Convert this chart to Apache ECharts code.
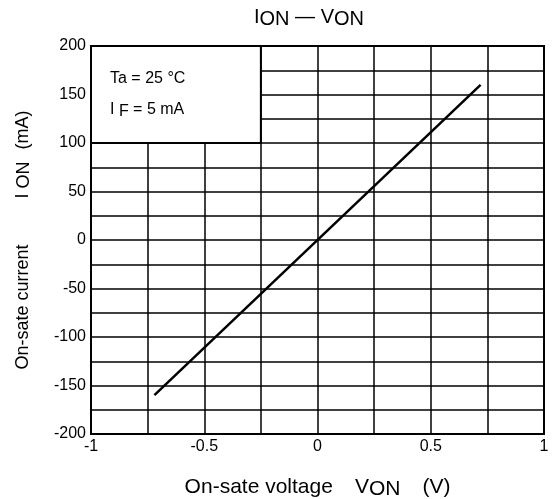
<!DOCTYPE html>
<html><head><meta charset="utf-8">
<script src="https://cdn.jsdelivr.net/npm/echarts@6/dist/echarts.min.js"></script>
<style>html,body{margin:0;padding:0;background:#fff}#c{width:553px;height:499px}</style>
</head><body><div id="c"></div>
<script>
var vOn = [-0.72, 0.72];
var iOn = [-160, 160];
var xTicks = [-1, -0.5, 0, 0.5, 1];
var yTicks = [-200, -150, -100, -50, 0, 50, 100, 150, 200];
var insetBox = [[-1, 100], [-0.25, 200]];

var F = 'Liberation Sans, Arial, sans-serif';
var chart = echarts.init(document.getElementById('c'));
function fmt(list){ return function(v){ for (var i=0;i<list.length;i++){ if (Math.abs(list[i]-v)<1e-9) return String(list[i]); } return ''; }; }
function richSub(size, off, gap, gap2){
  return {
    m: { fontFamily: F, fontSize: size, fontWeight: 'normal', color: '#000', fill: '#000', padding: [0,0,off,0] },
    s: { fontFamily: F, fontSize: size, fontWeight: 'normal', color: '#000', fill: '#000', padding: [off,0,0,0] },
    g: { fontFamily: F, fontSize: size, color: '#000', fill: '#000', padding: [0,0,off,0], width: gap || 0 },
    h: { fontFamily: F, fontSize: size, color: '#000', fill: '#000', padding: [0,0,off,0], width: gap2 || 0 }
  };
}
chart.setOption({
  animation: false,
  grid: { left: 91, right: 9, top: 46, bottom: 65, show: true, borderColor: '#000', borderWidth: 2, outerBoundsMode: 'none', containLabel: false },
  xAxis: {
    type: 'value', min: -1, max: 1, interval: 0.25,
    name: '{m|On-sate voltage}{g|}{m|V}{s|ON}{g|}{m|(V)}', nameLocation: 'middle', nameGap: 43,
    nameTextStyle: { rich: richSub(21, 2, 22) },
    axisLine: { show: false }, axisTick: { show: false },
    axisLabel: { formatter: fmt(xTicks), color: '#000', fontFamily: F, fontSize: 16, margin: 5 },
    splitLine: { show: true, lineStyle: { color: '#000', width: 1.5 } }
  },
  yAxis: {
    type: 'value', min: -200, max: 200, interval: 25,
    name: '{m|On-sate current}{g|}{m|I }{s|ON}{h|}{m|(mA)}', nameLocation: 'middle', nameGap: 58, nameRotate: 90,
    nameTextStyle: { rich: richSub(18, 1, 46, 12) },
    axisLine: { show: false }, axisTick: { show: false },
    axisLabel: { formatter: fmt(yTicks), color: '#000', fontFamily: F, fontSize: 16, margin: 5 },
    splitLine: { show: true, lineStyle: { color: '#000', width: 1.5 } }
  },
  series: [{
    type: 'line', data: vOn.map(function(v,i){ return [v, iOn[i]]; }),
    showSymbol: false, lineStyle: { color: '#000', width: 2.5 },
    markArea: {
      silent: true,
      itemStyle: { color: '#fff', borderColor: '#000', borderWidth: 2, opacity: 1 },
      label: { show: false },
      data: [[{ coord: insetBox[0] }, { coord: insetBox[1] }]]
    }
  }],
  graphic: [
    { type: 'text', left: 254, top: 7, z: 100, style: { text: '{m|I}{s|ON}{m| — V}{s|ON}', rich: richSub(20, 2) } },
    { type: 'text', left: 110, top: 71, z: 100, style: { text: 'Ta = 25 °C', font: '16px ' + F, fill: '#000' } },
    { type: 'text', left: 110, top: 102, z: 100, style: { text: '{m|I }{s|F}{m| = 5 mA}', rich: richSub(16, 2) } }
  ]
});
</script></body></html>
